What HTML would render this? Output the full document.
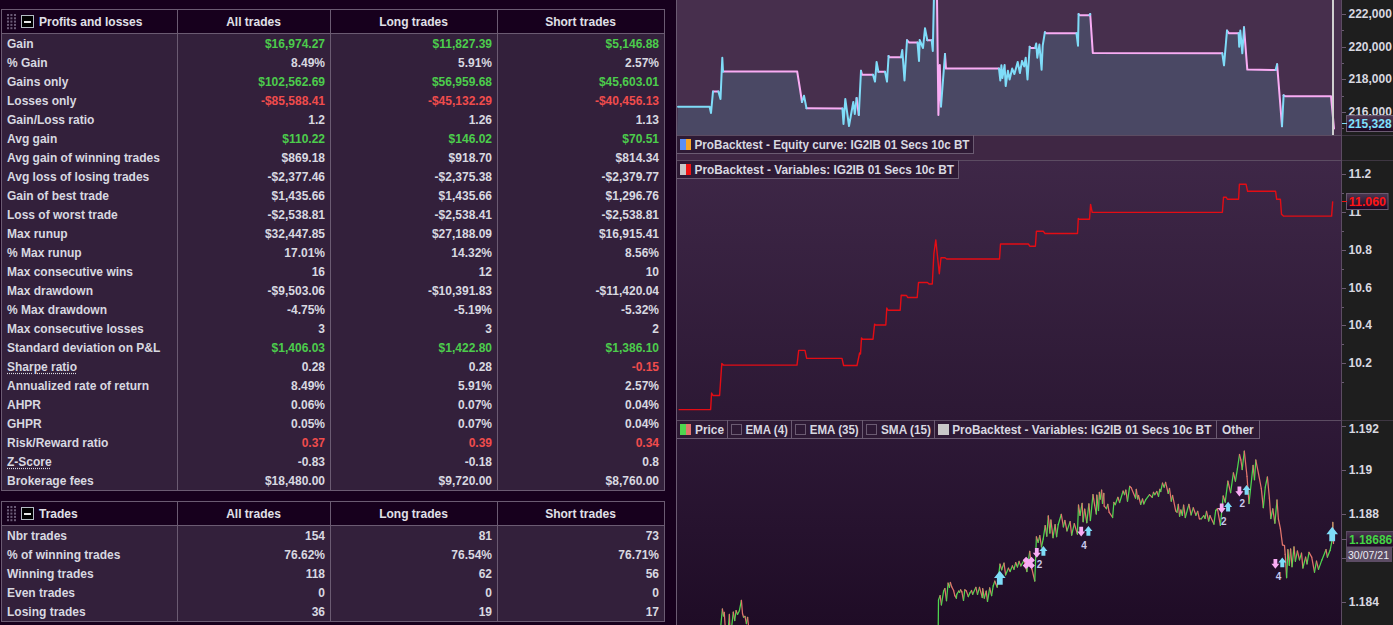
<!DOCTYPE html>
<html><head><meta charset="utf-8"><style>
*{margin:0;padding:0;box-sizing:border-box}
html,body{width:1393px;height:625px;overflow:hidden;background:#17001d;font-family:"Liberation Sans",sans-serif;font-weight:bold;font-size:12px}
.tbl{position:absolute;left:1px;width:664px;border:1px solid #6b5b72;background:#33203b}
.hdr{position:absolute;left:-1px;top:-1px;width:664px;height:25px;border:1px solid #6b5b72;background:#17001d}
.grip{position:absolute;left:4px;top:4px;width:12px;height:18px}
.minus{position:absolute;left:19px;top:5px;width:13px;height:13px;border:1px solid #b4bcc4;background:#000}
.minus:after{content:"";position:absolute;left:2px;top:4.5px;width:7px;height:2px;background:#e8e8e8}
.htitle{position:absolute;left:37px;top:1px;line-height:23px;color:#e0e0e8}
.hc{position:absolute;top:1px;line-height:23px;text-align:center;color:#e0e0e8}
.vl{position:absolute;top:-1px;bottom:-1px;width:1px;background:#6b5b72}
.lab{position:absolute;left:5px;line-height:19px;color:#d8d8e0;white-space:nowrap}
.lab u{text-decoration:underline dotted;text-underline-offset:2px}
.val{position:absolute;line-height:19px;color:#d8d8e0;white-space:nowrap;text-align:right}
.g{color:#4ccc4c}.r{color:#f04c4c}
#rp{position:absolute;left:676px;top:0;width:1px;height:625px;background:#6b5b72}
</style></head><body>
<div class="tbl" style="top:9px;height:482px">
<div class="hdr">
<div class="grip"><svg width="12" height="18"><rect x="1" y="0" width="2" height="2" fill="#6a5a76"/><rect x="1" y="3.3" width="2" height="2" fill="#6a5a76"/><rect x="1" y="6.6" width="2" height="2" fill="#6a5a76"/><rect x="1" y="9.9" width="2" height="2" fill="#6a5a76"/><rect x="1" y="13.2" width="2" height="2" fill="#6a5a76"/><rect x="4.4" y="0" width="2" height="2" fill="#6a5a76"/><rect x="4.4" y="3.3" width="2" height="2" fill="#6a5a76"/><rect x="4.4" y="6.6" width="2" height="2" fill="#6a5a76"/><rect x="4.4" y="9.9" width="2" height="2" fill="#6a5a76"/><rect x="4.4" y="13.2" width="2" height="2" fill="#6a5a76"/><rect x="8" y="0" width="2" height="2" fill="#6a5a76"/><rect x="8" y="3.3" width="2" height="2" fill="#6a5a76"/><rect x="8" y="6.6" width="2" height="2" fill="#6a5a76"/><rect x="8" y="9.9" width="2" height="2" fill="#6a5a76"/><rect x="8" y="13.2" width="2" height="2" fill="#6a5a76"/></svg></div><div class="minus"></div>
<div class="htitle">Profits and losses</div>
<div class="hc" style="left:175px;width:153px">All trades</div>
<div class="hc" style="left:328px;width:167px">Long trades</div>
<div class="hc" style="left:495px;width:167px">Short trades</div>
</div>
<div class="vl" style="left:175px"></div>
<div class="vl" style="left:328px"></div>
<div class="vl" style="left:495px"></div>
<div class="lab" style="top:25px">Gain</div>
<div class="val g" style="top:25px;right:339px">$16,974.27</div>
<div class="val g" style="top:25px;right:172px">$11,827.39</div>
<div class="val g" style="top:25px;right:5px">$5,146.88</div>
<div class="lab" style="top:44px">% Gain</div>
<div class="val" style="top:44px;right:339px">8.49%</div>
<div class="val" style="top:44px;right:172px">5.91%</div>
<div class="val" style="top:44px;right:5px">2.57%</div>
<div class="lab" style="top:63px">Gains only</div>
<div class="val g" style="top:63px;right:339px">$102,562.69</div>
<div class="val g" style="top:63px;right:172px">$56,959.68</div>
<div class="val g" style="top:63px;right:5px">$45,603.01</div>
<div class="lab" style="top:82px">Losses only</div>
<div class="val r" style="top:82px;right:339px">-$85,588.41</div>
<div class="val r" style="top:82px;right:172px">-$45,132.29</div>
<div class="val r" style="top:82px;right:5px">-$40,456.13</div>
<div class="lab" style="top:101px">Gain/Loss ratio</div>
<div class="val" style="top:101px;right:339px">1.2</div>
<div class="val" style="top:101px;right:172px">1.26</div>
<div class="val" style="top:101px;right:5px">1.13</div>
<div class="lab" style="top:120px">Avg gain</div>
<div class="val g" style="top:120px;right:339px">$110.22</div>
<div class="val g" style="top:120px;right:172px">$146.02</div>
<div class="val g" style="top:120px;right:5px">$70.51</div>
<div class="lab" style="top:139px">Avg gain of winning trades</div>
<div class="val" style="top:139px;right:339px">$869.18</div>
<div class="val" style="top:139px;right:172px">$918.70</div>
<div class="val" style="top:139px;right:5px">$814.34</div>
<div class="lab" style="top:158px">Avg loss of losing trades</div>
<div class="val" style="top:158px;right:339px">-$2,377.46</div>
<div class="val" style="top:158px;right:172px">-$2,375.38</div>
<div class="val" style="top:158px;right:5px">-$2,379.77</div>
<div class="lab" style="top:177px">Gain of best trade</div>
<div class="val" style="top:177px;right:339px">$1,435.66</div>
<div class="val" style="top:177px;right:172px">$1,435.66</div>
<div class="val" style="top:177px;right:5px">$1,296.76</div>
<div class="lab" style="top:196px">Loss of worst trade</div>
<div class="val" style="top:196px;right:339px">-$2,538.81</div>
<div class="val" style="top:196px;right:172px">-$2,538.41</div>
<div class="val" style="top:196px;right:5px">-$2,538.81</div>
<div class="lab" style="top:215px">Max runup</div>
<div class="val" style="top:215px;right:339px">$32,447.85</div>
<div class="val" style="top:215px;right:172px">$27,188.09</div>
<div class="val" style="top:215px;right:5px">$16,915.41</div>
<div class="lab" style="top:234px">% Max runup</div>
<div class="val" style="top:234px;right:339px">17.01%</div>
<div class="val" style="top:234px;right:172px">14.32%</div>
<div class="val" style="top:234px;right:5px">8.56%</div>
<div class="lab" style="top:253px">Max consecutive wins</div>
<div class="val" style="top:253px;right:339px">16</div>
<div class="val" style="top:253px;right:172px">12</div>
<div class="val" style="top:253px;right:5px">10</div>
<div class="lab" style="top:272px">Max drawdown</div>
<div class="val" style="top:272px;right:339px">-$9,503.06</div>
<div class="val" style="top:272px;right:172px">-$10,391.83</div>
<div class="val" style="top:272px;right:5px">-$11,420.04</div>
<div class="lab" style="top:291px">% Max drawdown</div>
<div class="val" style="top:291px;right:339px">-4.75%</div>
<div class="val" style="top:291px;right:172px">-5.19%</div>
<div class="val" style="top:291px;right:5px">-5.32%</div>
<div class="lab" style="top:310px">Max consecutive losses</div>
<div class="val" style="top:310px;right:339px">3</div>
<div class="val" style="top:310px;right:172px">3</div>
<div class="val" style="top:310px;right:5px">2</div>
<div class="lab" style="top:329px">Standard deviation on P&amp;L</div>
<div class="val g" style="top:329px;right:339px">$1,406.03</div>
<div class="val g" style="top:329px;right:172px">$1,422.80</div>
<div class="val g" style="top:329px;right:5px">$1,386.10</div>
<div class="lab" style="top:348px"><u>Sharpe ratio</u></div>
<div class="val" style="top:348px;right:339px">0.28</div>
<div class="val" style="top:348px;right:172px">0.28</div>
<div class="val r" style="top:348px;right:5px">-0.15</div>
<div class="lab" style="top:367px">Annualized rate of return</div>
<div class="val" style="top:367px;right:339px">8.49%</div>
<div class="val" style="top:367px;right:172px">5.91%</div>
<div class="val" style="top:367px;right:5px">2.57%</div>
<div class="lab" style="top:386px">AHPR</div>
<div class="val" style="top:386px;right:339px">0.06%</div>
<div class="val" style="top:386px;right:172px">0.07%</div>
<div class="val" style="top:386px;right:5px">0.04%</div>
<div class="lab" style="top:405px">GHPR</div>
<div class="val" style="top:405px;right:339px">0.05%</div>
<div class="val" style="top:405px;right:172px">0.07%</div>
<div class="val" style="top:405px;right:5px">0.04%</div>
<div class="lab" style="top:424px">Risk/Reward ratio</div>
<div class="val r" style="top:424px;right:339px">0.37</div>
<div class="val r" style="top:424px;right:172px">0.39</div>
<div class="val r" style="top:424px;right:5px">0.34</div>
<div class="lab" style="top:443px"><u>Z-Score</u></div>
<div class="val" style="top:443px;right:339px">-0.83</div>
<div class="val" style="top:443px;right:172px">-0.18</div>
<div class="val" style="top:443px;right:5px">0.8</div>
<div class="lab" style="top:462px">Brokerage fees</div>
<div class="val" style="top:462px;right:339px">$18,480.00</div>
<div class="val" style="top:462px;right:172px">$9,720.00</div>
<div class="val" style="top:462px;right:5px">$8,760.00</div>
</div>
<div class="tbl" style="top:501px;height:121px">
<div class="hdr">
<div class="grip"><svg width="12" height="18"><rect x="1" y="0" width="2" height="2" fill="#6a5a76"/><rect x="1" y="3.3" width="2" height="2" fill="#6a5a76"/><rect x="1" y="6.6" width="2" height="2" fill="#6a5a76"/><rect x="1" y="9.9" width="2" height="2" fill="#6a5a76"/><rect x="1" y="13.2" width="2" height="2" fill="#6a5a76"/><rect x="4.4" y="0" width="2" height="2" fill="#6a5a76"/><rect x="4.4" y="3.3" width="2" height="2" fill="#6a5a76"/><rect x="4.4" y="6.6" width="2" height="2" fill="#6a5a76"/><rect x="4.4" y="9.9" width="2" height="2" fill="#6a5a76"/><rect x="4.4" y="13.2" width="2" height="2" fill="#6a5a76"/><rect x="8" y="0" width="2" height="2" fill="#6a5a76"/><rect x="8" y="3.3" width="2" height="2" fill="#6a5a76"/><rect x="8" y="6.6" width="2" height="2" fill="#6a5a76"/><rect x="8" y="9.9" width="2" height="2" fill="#6a5a76"/><rect x="8" y="13.2" width="2" height="2" fill="#6a5a76"/></svg></div><div class="minus"></div>
<div class="htitle">Trades</div>
<div class="hc" style="left:175px;width:153px">All trades</div>
<div class="hc" style="left:328px;width:167px">Long trades</div>
<div class="hc" style="left:495px;width:167px">Short trades</div>
</div>
<div class="vl" style="left:175px"></div>
<div class="vl" style="left:328px"></div>
<div class="vl" style="left:495px"></div>
<div class="lab" style="top:25px">Nbr trades</div>
<div class="val" style="top:25px;right:339px">154</div>
<div class="val" style="top:25px;right:172px">81</div>
<div class="val" style="top:25px;right:5px">73</div>
<div class="lab" style="top:44px">% of winning trades</div>
<div class="val" style="top:44px;right:339px">76.62%</div>
<div class="val" style="top:44px;right:172px">76.54%</div>
<div class="val" style="top:44px;right:5px">76.71%</div>
<div class="lab" style="top:63px">Winning trades</div>
<div class="val" style="top:63px;right:339px">118</div>
<div class="val" style="top:63px;right:172px">62</div>
<div class="val" style="top:63px;right:5px">56</div>
<div class="lab" style="top:82px">Even trades</div>
<div class="val" style="top:82px;right:339px">0</div>
<div class="val" style="top:82px;right:172px">0</div>
<div class="val" style="top:82px;right:5px">0</div>
<div class="lab" style="top:101px">Losing trades</div>
<div class="val" style="top:101px;right:339px">36</div>
<div class="val" style="top:101px;right:172px">19</div>
<div class="val" style="top:101px;right:5px">17</div>
</div>
<div id="rp"></div>
<svg id="rsv" width="717" height="625" viewBox="0 0 717 625" style="position:absolute;left:676px;top:0"><style>path.g{stroke:#4fd64f}path.r{stroke:#e2746c}</style><defs><linearGradient id="gv" x1="0" y1="0" x2="0" y2="1"><stop offset="0" stop-color="#3e2747"/><stop offset="1" stop-color="#2c1834"/></linearGradient><linearGradient id="gp" x1="0" y1="0" x2="0" y2="1"><stop offset="0" stop-color="#2e1937"/><stop offset="1" stop-color="#1f0c26"/></linearGradient><clipPath id="ceq"><rect x="1" y="0" width="664" height="135"/></clipPath><clipPath id="cv"><rect x="1" y="161" width="664" height="259"/></clipPath><clipPath id="cp"><rect x="1" y="439" width="664" height="186"/></clipPath></defs><rect x="665" y="0" width="52" height="625" fill="#1e1e1e"/><rect x="1" y="0" width="664" height="135" fill="#472f4d"/><g clip-path="url(#ceq)"><polygon points="2.0,106.7 33.6,106.7 35.0,113.0 37.0,91.4 42.4,91.4 44.5,99.0 46.3,57.7 47.0,71.6 121.2,71.6 124.0,89.0 126.0,102.0 128.0,95.8 130.5,108.2 166.4,108.5 167.5,124.0 169.3,99.0 173.0,126.0 177.3,102.0 178.8,114.0 180.6,98.0 182.8,115.0 185.0,70.7 186.0,74.7 197.0,74.7 199.0,81.6 200.6,62.0 202.4,71.8 209.0,71.8 211.0,81.6 212.6,56.0 213.0,57.2 225.0,57.2 226.3,50.0 228.5,80.5 231.0,40.3 233.0,42.4 241.5,42.4 243.0,61.0 243.7,40.0 247.0,48.0 249.0,28.3 251.3,40.3 255.7,40.3 256.8,51.0 257.9,0.0 261.0,0.0 262.4,115.0 263.8,65.0 265.0,106.5 269.0,54.0 270.0,68.6 323.0,68.6 324.3,80.5 325.4,65.3 326.4,78.0 328.6,65.0 329.7,86.0 331.9,70.7 333.6,79.5 336.2,68.6 338.4,74.0 341.7,62.0 343.9,73.0 346.0,61.0 348.2,66.4 349.7,57.7 351.5,79.5 353.7,46.8 354.7,47.9 359.1,47.9 360.2,43.5 361.3,57.7 363.4,44.6 365.6,69.7 366.7,45.7 368.9,32.2 370.0,33.3 400.5,33.3 402.0,45.7 402.6,14.1 403.7,15.2 413.5,15.2 414.2,14.1 416.8,52.9 546.3,53.3 548.0,65.3 551.0,30.5 553.0,33.3 562.6,33.3 563.2,46.8 564.3,30.5 566.3,53.3 568.0,27.2 571.3,69.6 599.6,70.0 601.1,64.2 606.0,126.2 607.6,95.3 609.0,96.2 655.0,96.2 658.0,128.4 658.0,135.0 1.0,135.0" fill="#4a4864"/><path d="M37.0,91.4L42.4,91.4M47.0,71.6L121.2,71.6M121.2,71.6L124.0,89.0M124.0,89.0L126.0,102.0M130.5,108.2L166.4,108.5M180.6,98.0L182.8,115.0M185.0,70.7L186.0,74.7M186.0,74.7L197.0,74.7M202.4,71.8L209.0,71.8M212.6,56.0L213.0,57.2M213.0,57.2L225.0,57.2M231.0,40.3L233.0,42.4M233.0,42.4L241.5,42.4M251.3,40.3L255.7,40.3M261.0,-2.0L262.4,115.0M262.4,115.0L263.8,65.0M263.8,65.0L265.0,106.5M269.0,54.0L270.0,68.6M270.0,68.6L323.0,68.6M353.7,46.8L354.7,47.9M354.7,47.9L359.1,47.9M368.9,32.2L370.0,33.3M370.0,33.3L400.5,33.3M402.6,14.1L403.7,15.2M403.7,15.2L413.5,15.2M414.2,14.1L416.8,52.9M416.8,52.9L546.3,53.3M551.0,30.5L553.0,33.3M553.0,33.3L562.6,33.3M568.0,27.2L571.3,69.6M571.3,69.6L599.6,70.0M601.1,64.2L606.0,126.2M607.6,95.3L609.0,96.2M609.0,96.2L655.0,96.2M655.0,96.2L658.0,128.4" stroke="#f9acf4" stroke-width="2" fill="none" stroke-linecap="round" stroke-linejoin="round"/><path d="M2.0,106.7L33.6,106.7M33.6,106.7L35.0,113.0M35.0,113.0L37.0,91.4M42.4,91.4L44.5,99.0M44.5,99.0L46.3,57.7M46.3,57.7L47.0,71.6M126.0,102.0L128.0,95.8M128.0,95.8L130.5,108.2M166.4,108.5L167.5,124.0M167.5,124.0L169.3,99.0M169.3,99.0L173.0,126.0M173.0,126.0L177.3,102.0M177.3,102.0L178.8,114.0M178.8,114.0L180.6,98.0M182.8,115.0L185.0,70.7M197.0,74.7L199.0,81.6M199.0,81.6L200.6,62.0M200.6,62.0L202.4,71.8M209.0,71.8L211.0,81.6M211.0,81.6L212.6,56.0M225.0,57.2L226.3,50.0M226.3,50.0L228.5,80.5M228.5,80.5L231.0,40.3M241.5,42.4L243.0,61.0M243.0,61.0L243.7,40.0M243.7,40.0L247.0,48.0M247.0,48.0L249.0,28.3M249.0,28.3L251.3,40.3M255.7,40.3L256.8,51.0M256.8,51.0L257.9,-2.0M257.9,-2.0L261.0,-2.0M265.0,106.5L269.0,54.0M323.0,68.6L324.3,80.5M324.3,80.5L325.4,65.3M325.4,65.3L326.4,78.0M326.4,78.0L328.6,65.0M328.6,65.0L329.7,86.0M329.7,86.0L331.9,70.7M331.9,70.7L333.6,79.5M333.6,79.5L336.2,68.6M336.2,68.6L338.4,74.0M338.4,74.0L341.7,62.0M341.7,62.0L343.9,73.0M343.9,73.0L346.0,61.0M346.0,61.0L348.2,66.4M348.2,66.4L349.7,57.7M349.7,57.7L351.5,79.5M351.5,79.5L353.7,46.8M359.1,47.9L360.2,43.5M360.2,43.5L361.3,57.7M361.3,57.7L363.4,44.6M363.4,44.6L365.6,69.7M365.6,69.7L366.7,45.7M366.7,45.7L368.9,32.2M400.5,33.3L402.0,45.7M402.0,45.7L402.6,14.1M413.5,15.2L414.2,14.1M546.3,53.3L548.0,65.3M548.0,65.3L551.0,30.5M562.6,33.3L563.2,46.8M563.2,46.8L564.3,30.5M564.3,30.5L566.3,53.3M566.3,53.3L568.0,27.2M599.6,70.0L601.1,64.2M606.0,126.2L607.6,95.3" stroke="#7fdcf8" stroke-width="2" fill="none" stroke-linecap="round" stroke-linejoin="round"/></g><rect x="656" y="0" width="2" height="135" fill="#d0d0d0"/><rect x="1" y="136" width="664" height="24" fill="#3f2744"/><rect x="1" y="161" width="664" height="259" fill="url(#gv)"/><path d="M2.6,409.6 L34.6,409.6 L35.6,393.0 L37.0,395.5 L43.6,395.5 L45.8,363.5 L47.4,365.1 L121.0,365.1 L122.7,350.4 L129.0,350.4 L130.7,358.4 L166.0,358.4 L167.6,365.5 L181.0,365.5 L183.6,353.0 L184.5,354.0 L185.5,337.9 L186.5,339.2 L197.0,339.2 L198.6,324.1 L199.5,325.0 L209.8,325.0 L210.8,308.0 L212.0,310.3 L224.2,310.3 L225.2,295.3 L230.6,295.5 L231.6,297.5 L241.2,297.5 L242.5,282.5 L251.5,282.5 L253.0,284.0 L256.3,284.0 L257.9,253.6 L259.8,239.9 L263.3,273.8 L265.0,257.8 L269.0,257.8 L270.7,259.0 L323.5,259.0 L324.5,244.0 L352.4,244.0 L354.0,246.3 L359.4,246.3 L360.4,231.2 L367.4,231.3 L369.0,233.5 L401.5,233.5 L402.3,218.5 L403.0,219.3 L413.5,219.3 L414.6,204.4 L416.2,212.4 L546.4,212.3 L547.5,197.2 L550.3,197.2 L551.4,199.3 L562.6,199.3 L563.4,184.3 L570.1,184.3 L571.6,191.3 L599.6,191.3 L600.7,199.3 L604.4,199.3 L605.5,214.2 L607.4,216.1 L655.6,216.1 L656.7,201.4" stroke="#e40c14" stroke-width="1.4" fill="none" stroke-linejoin="round"/><rect x="1" y="421" width="664" height="204" fill="url(#gp)"/><g clip-path="url(#cp)"><g stroke-width="1.25" fill="none" stroke-linecap="round"><path class="g" d="M44.4,630.0L46.4,609.0"/><path class="r" d="M46.4,609.0L47.5,615.8"/><path class="g" d="M47.5,615.8L48.3,612.4"/><path class="r" d="M48.3,612.4L49.4,630.0"/><path class="r" d="M49.4,630.0L52.2,630.0"/><path class="g" d="M52.2,630.0L53.4,614.4"/><path class="r" d="M53.4,614.4L53.9,630.0"/><path class="r" d="M53.9,630.0L55.3,630.0"/><path class="g" d="M55.3,630.0L57.3,612.1"/><path class="r" d="M57.3,612.1L58.7,620.5"/><path class="g" d="M58.7,620.5L60.1,610.7"/><path class="r" d="M60.1,610.7L61.5,614.4"/><path class="g" d="M61.5,614.4L63.4,610.7"/><path class="g" d="M63.4,610.7L65.4,600.4"/><path class="r" d="M65.4,600.4L66.5,613.5"/><path class="r" d="M66.5,613.5L67.6,617.2"/><path class="g" d="M67.6,617.2L69.0,616.3"/><path class="r" d="M69.0,616.3L70.4,623.6"/><path class="g" d="M70.4,623.6L71.6,617.4"/><path class="r" d="M71.6,617.4L73.0,630.0"/><path class="g" d="M262.2,630.0L262.5,600.0"/><path class="g" d="M262.5,600.0L264.1,595.6"/><path class="r" d="M264.1,595.6L265.4,604.9"/><path class="g" d="M265.4,604.9L267.6,591.1"/><path class="g" d="M267.6,591.1L268.9,588.6"/><path class="r" d="M268.9,588.6L270.5,600.7"/><path class="g" d="M270.5,600.7L272.1,583.1"/><path class="r" d="M272.1,583.1L273.4,587.3"/><path class="g" d="M273.4,587.3L274.4,582.5"/><path class="r" d="M274.4,582.5L275.6,586.6"/><path class="r" d="M275.6,586.6L277.6,590.5"/><path class="r" d="M277.6,590.5L278.8,595.6"/><path class="r" d="M278.8,595.6L280.4,598.2"/><path class="g" d="M280.4,598.2L280.8,594.3"/><path class="g" d="M280.8,594.3L282.7,591.1"/><path class="r" d="M282.7,591.1L283.6,592.4"/><path class="g" d="M283.6,592.4L284.6,589.8"/><path class="r" d="M284.6,589.8L285.9,591.8"/><path class="r" d="M285.9,591.8L287.5,600.4"/><path class="g" d="M287.5,600.4L288.8,589.8"/><path class="r" d="M288.8,589.8L290.4,591.1"/><path class="r" d="M290.4,591.1L292.3,596.6"/><path class="g" d="M292.3,596.6L293.9,593.0"/><path class="g" d="M293.9,593.0L295.5,590.5"/><path class="r" d="M295.5,590.5L296.7,594.3"/><path class="g" d="M296.7,594.3L299.9,587.3"/><path class="r" d="M299.9,587.3L301.5,594.3"/><path class="g" d="M301.5,594.3L303.5,587.3"/><path class="r" d="M303.5,587.3L306.3,597.5"/><path class="g" d="M306.3,597.5L306.7,588.6"/><path class="r" d="M306.7,588.6L308.3,598.2"/><path class="g" d="M308.3,598.2L310.2,591.1"/><path class="r" d="M310.2,591.1L311.5,601.4"/><path class="g" d="M311.5,601.4L313.7,587.9"/><path class="r" d="M313.7,587.9L315.6,595.6"/><path class="g" d="M315.6,595.6L317.2,586.0"/><path class="g" d="M317.2,586.0L318.8,581.2"/><path class="r" d="M318.8,581.2L321.2,587.2"/><path class="g" d="M321.2,587.2L324.0,564.2"/><path class="r" d="M324.0,564.2L325.7,569.8"/><path class="g" d="M325.7,569.8L328.0,563.1"/><path class="r" d="M328.0,563.1L329.6,574.9"/><path class="g" d="M329.6,574.9L332.4,568.2"/><path class="r" d="M332.4,568.2L334.1,571.5"/><path class="g" d="M334.1,571.5L336.4,565.9"/><path class="r" d="M336.4,565.9L338.0,569.3"/><path class="g" d="M338.0,569.3L339.7,562.6"/><path class="r" d="M339.7,562.6L341.4,567.0"/><path class="g" d="M341.4,567.0L343.1,561.4"/><path class="r" d="M343.1,561.4L344.8,565.9"/><path class="g" d="M344.8,565.9L348.1,560.3"/><path class="r" d="M348.1,560.3L350.9,571.5"/><path class="g" d="M350.9,571.5L353.7,551.4"/><path class="r" d="M353.7,551.4L356.0,569.3"/><path class="r" d="M356.0,569.3L358.8,581.0"/><path class="g" d="M358.8,581.0L360.4,536.8"/><path class="r" d="M360.4,536.8L362.1,542.4"/><path class="g" d="M362.1,542.4L363.8,535.7"/><path class="r" d="M363.8,535.7L365.5,546.9"/><path class="g" d="M365.5,546.9L367.2,539.0"/><path class="g" d="M367.2,539.0L369.2,525.7"/><path class="r" d="M369.2,525.7L370.8,536.1"/><path class="g" d="M370.8,536.1L372.3,515.9"/><path class="r" d="M372.3,515.9L373.9,533.0"/><path class="g" d="M373.9,533.0L374.9,520.0"/><path class="r" d="M374.9,520.0L377.0,537.7"/><path class="g" d="M377.0,537.7L379.1,524.7"/><path class="r" d="M379.1,524.7L380.6,536.7"/><path class="g" d="M380.6,536.7L382.2,524.7"/><path class="g" d="M382.2,524.7L385.3,514.3"/><path class="r" d="M385.3,514.3L387.4,526.8"/><path class="g" d="M387.4,526.8L388.9,520.5"/><path class="r" d="M388.9,520.5L391.0,530.9"/><path class="g" d="M391.0,530.9L394.1,521.6"/><path class="r" d="M394.1,521.6L395.7,535.1"/><path class="g" d="M395.7,535.1L398.3,523.7"/><path class="r" d="M398.3,523.7L401.4,534.1"/><path class="g" d="M401.4,534.1L402.5,505.0"/><path class="r" d="M402.5,505.0L404.0,515.3"/><path class="g" d="M404.0,515.3L406.1,503.4"/><path class="r" d="M406.1,503.4L407.1,521.6"/><path class="g" d="M407.1,521.6L408.7,509.1"/><path class="r" d="M408.7,509.1L410.8,522.6"/><path class="g" d="M410.8,522.6L412.9,503.9"/><path class="r" d="M412.9,503.9L414.4,520.5"/><path class="g" d="M414.4,520.5L417.0,494.6"/><path class="r" d="M417.0,494.6L418.6,505.0"/><path class="r" d="M418.6,505.0L420.3,514.0"/><path class="g" d="M420.3,514.0L420.8,495.1"/><path class="r" d="M420.8,495.1L422.5,510.5"/><path class="g" d="M422.5,510.5L423.4,492.4"/><path class="r" d="M423.4,492.4L424.3,499.0"/><path class="g" d="M424.3,499.0L425.6,490.2"/><path class="r" d="M425.6,490.2L426.5,503.4"/><path class="g" d="M426.5,503.4L427.8,493.3"/><path class="r" d="M427.8,493.3L428.2,506.1"/><path class="r" d="M428.2,506.1L430.4,508.7"/><path class="g" d="M430.4,508.7L431.8,504.3"/><path class="r" d="M431.8,504.3L433.1,512.2"/><path class="r" d="M433.1,512.2L436.6,517.5"/><path class="g" d="M436.6,517.5L437.9,502.5"/><path class="r" d="M437.9,502.5L439.2,504.7"/><path class="g" d="M439.2,504.7L441.9,497.3"/><path class="r" d="M441.9,497.3L443.6,502.5"/><path class="g" d="M443.6,502.5L447.1,491.1"/><path class="r" d="M447.1,491.1L448.5,494.6"/><path class="g" d="M448.5,494.6L449.8,490.2"/><path class="r" d="M449.8,490.2L451.5,501.2"/><path class="g" d="M451.5,501.2L453.7,486.3"/><path class="r" d="M453.7,486.3L455.1,487.6"/><path class="r" d="M455.1,487.6L459.5,498.1"/><path class="g" d="M459.5,498.1L460.3,489.3"/><path class="r" d="M460.3,489.3L461.7,499.0"/><path class="g" d="M461.7,499.0L462.5,495.5"/><path class="r" d="M462.5,495.5L464.7,504.3"/><path class="g" d="M464.7,504.3L466.5,499.0"/><path class="r" d="M466.5,499.0L467.8,503.9"/><path class="g" d="M467.8,503.9L469.6,499.9"/><path class="g" d="M469.6,499.9L473.5,494.6"/><path class="r" d="M473.5,494.6L476.2,497.3"/><path class="g" d="M476.2,497.3L477.5,492.4"/><path class="r" d="M477.5,492.4L478.8,494.6"/><path class="g" d="M478.8,494.6L480.8,491.5"/><path class="r" d="M480.8,491.5L482.5,496.4"/><path class="g" d="M482.5,496.4L483.8,489.3"/><path class="r" d="M483.8,489.3L484.7,491.5"/><path class="g" d="M484.7,491.5L486.5,483.2"/><path class="r" d="M486.5,483.2L488.2,487.2"/><path class="g" d="M488.2,487.2L489.6,482.3"/><path class="r" d="M489.6,482.3L492.2,493.3"/><path class="g" d="M492.2,493.3L493.5,488.5"/><path class="r" d="M493.5,488.5L495.3,501.2"/><path class="g" d="M495.3,501.2L496.6,495.5"/><path class="r" d="M496.6,495.5L499.7,510.9"/><path class="r" d="M499.7,510.9L501.0,512.2"/><path class="g" d="M501.0,512.2L502.3,504.3"/><path class="r" d="M502.3,504.3L503.6,516.2"/><path class="g" d="M503.6,516.2L504.9,510.0"/><path class="r" d="M504.9,510.0L506.3,515.3"/><path class="g" d="M506.3,515.3L507.6,505.2"/><path class="r" d="M507.6,505.2L509.3,517.5"/><path class="g" d="M509.3,517.5L512.9,504.3"/><path class="r" d="M512.9,504.3L515.1,514.9"/><path class="g" d="M515.1,514.9L517.3,507.8"/><path class="r" d="M517.3,507.8L519.9,515.3"/><path class="g" d="M519.9,515.3L521.7,511.3"/><path class="r" d="M521.7,511.3L523.4,518.8"/><path class="r" d="M523.4,518.8L525.2,518.8"/><path class="g" d="M525.2,518.8L527.8,515.7"/><path class="r" d="M527.8,515.7L529.1,518.4"/><path class="g" d="M529.1,518.4L530.5,511.3"/><path class="r" d="M530.5,511.3L532.7,521.0"/><path class="g" d="M532.7,521.0L534.0,515.7"/><path class="r" d="M534.0,515.7L537.9,524.1"/><path class="g" d="M537.9,524.1L539.7,510.5"/><path class="g" d="M539.7,510.5L541.4,508.7"/><path class="r" d="M541.4,508.7L544.4,525.3"/><path class="g" d="M544.4,525.3L547.2,496.0"/><path class="r" d="M547.2,496.0L549.2,502.1"/><path class="g" d="M549.2,502.1L551.9,481.1"/><path class="r" d="M551.9,481.1L554.6,492.6"/><path class="g" d="M554.6,492.6L557.4,472.9"/><path class="r" d="M557.4,472.9L559.4,481.1"/><path class="g" d="M559.4,481.1L561.4,468.8"/><path class="g" d="M561.4,468.8L563.5,454.5"/><path class="r" d="M563.5,454.5L564.9,460.0"/><path class="r" d="M564.9,460.0L566.2,469.5"/><path class="g" d="M566.2,469.5L568.3,451.1"/><path class="r" d="M568.3,451.1L571.0,476.3"/><path class="r" d="M571.0,476.3L573.0,503.5"/><path class="g" d="M573.0,503.5L577.1,465.4"/><path class="r" d="M577.1,465.4L578.5,479.7"/><path class="g" d="M578.5,479.7L579.8,460.0"/><path class="r" d="M579.8,460.0L582.5,473.6"/><path class="r" d="M582.5,473.6L585.3,488.5"/><path class="r" d="M585.3,488.5L587.3,507.6"/><path class="g" d="M587.3,507.6L589.3,487.2"/><path class="g" d="M589.3,487.2L591.4,477.0"/><path class="r" d="M591.4,477.0L593.4,498.1"/><path class="r" d="M593.4,498.1L594.8,518.5"/><path class="g" d="M594.8,518.5L596.8,508.9"/><path class="r" d="M596.8,508.9L598.9,523.2"/><path class="g" d="M598.9,523.2L601.0,500.0"/><path class="r" d="M601.0,500.0L602.4,519.0"/><path class="r" d="M602.4,519.0L604.4,528.6"/><path class="r" d="M604.4,528.6L606.5,544.9"/><path class="r" d="M606.5,544.9L608.5,545.6"/><path class="r" d="M608.5,545.6L609.2,554.4"/><path class="r" d="M609.2,554.4L610.6,577.6"/><path class="g" d="M610.6,577.6L611.9,549.7"/><path class="r" d="M611.9,549.7L613.3,565.3"/><path class="g" d="M613.3,565.3L614.6,549.0"/><path class="r" d="M614.6,549.0L616.0,566.7"/><path class="g" d="M616.0,566.7L618.0,546.9"/><path class="r" d="M618.0,546.9L619.4,561.2"/><path class="g" d="M619.4,561.2L621.4,551.0"/><path class="r" d="M621.4,551.0L623.5,559.9"/><path class="g" d="M623.5,559.9L625.5,553.1"/><path class="r" d="M625.5,553.1L626.9,568.0"/><path class="g" d="M626.9,568.0L629.6,557.1"/><path class="r" d="M629.6,557.1L631.0,563.9"/><path class="g" d="M631.0,563.9L633.0,552.4"/><path class="r" d="M633.0,552.4L635.7,557.1"/><path class="r" d="M635.7,557.1L638.5,572.1"/><path class="g" d="M638.5,572.1L640.5,561.2"/><path class="r" d="M640.5,561.2L642.5,569.4"/><path class="g" d="M642.5,569.4L645.9,559.9"/><path class="g" d="M645.9,559.9L650.0,549.7"/><path class="r" d="M650.0,549.7L651.4,557.1"/><path class="g" d="M651.4,557.1L654.1,550.3"/><path class="g" d="M654.1,550.3L656.1,540.1"/><path class="g" d="M656.1,540.1L656.8,522.4"/><path class="r" d="M656.8,522.4L657.5,543.5"/></g></g><polygon fill="#7fdcf8" points="323.8,570.8 329.6,578.1 326.7,578.1 326.7,584.8 320.9,584.8 320.9,578.1 318.0,578.1"/><polygon fill="#7fdcf8" points="656.2,526.8 662.0,534.3 659.1,534.3 659.1,541.2 653.3,541.2 653.3,534.3 650.4,534.3"/><polygon fill="#7fdcf8" points="367.4,546.0 371.4,551.1 369.4,551.1 369.4,555.8 365.4,555.8 365.4,551.1 363.4,551.1"/><polygon fill="#7fdcf8" points="412.4,526.0 416.4,531.1 414.4,531.1 414.4,535.8 410.4,535.8 410.4,531.1 408.4,531.1"/><polygon fill="#7fdcf8" points="552.1,501.8 556.1,506.9 554.1,506.9 554.1,511.6 550.1,511.6 550.1,506.9 548.1,506.9"/><polygon fill="#7fdcf8" points="570.6,485.0 574.6,490.1 572.6,490.1 572.6,494.8 568.6,494.8 568.6,490.1 566.6,490.1"/><polygon fill="#7fdcf8" points="606.3,557.4 610.3,562.5 608.3,562.5 608.3,567.2 604.3,567.2 604.3,562.5 602.3,562.5"/><polygon fill="#f9acf4" points="360.8,557.8 364.8,552.7 362.7,552.7 362.7,548.0 358.9,548.0 358.9,552.7 356.8,552.7"/><polygon fill="#f9acf4" points="405.2,536.6 409.2,531.5 407.1,531.5 407.1,526.8 403.3,526.8 403.3,531.5 401.2,531.5"/><polygon fill="#f9acf4" points="545.7,513.2 549.7,508.1 547.6,508.1 547.6,503.4 543.8,503.4 543.8,508.1 541.7,508.1"/><polygon fill="#f9acf4" points="563.4,496.4 567.4,491.3 565.3,491.3 565.3,486.6 561.5,486.6 561.5,491.3 559.4,491.3"/><polygon fill="#f9acf4" points="599.4,568.8 603.4,563.7 601.3,563.7 601.3,559.0 597.5,559.0 597.5,563.7 595.4,563.7"/><path d="M348.4,558.5L357.2,567.3M357.2,558.5L348.4,567.3" stroke="#f9acf4" stroke-width="4.8" stroke-linecap="butt"/><text x="363.5999999999999" y="568" font-family="Liberation Sans" font-size="10" font-weight="bold" fill="#c8c8ec" text-anchor="middle">2</text><text x="408" y="549" font-family="Liberation Sans" font-size="10" font-weight="bold" fill="#c8c8ec" text-anchor="middle">4</text><text x="547.9000000000001" y="524.5" font-family="Liberation Sans" font-size="10" font-weight="bold" fill="#c8c8ec" text-anchor="middle">2</text><text x="566.4000000000001" y="507" font-family="Liberation Sans" font-size="10" font-weight="bold" fill="#c8c8ec" text-anchor="middle">2</text><text x="602.5999999999999" y="580.4" font-family="Liberation Sans" font-size="10" font-weight="bold" fill="#c8c8ec" text-anchor="middle">4</text><rect x="1" y="135" width="664" height="1" fill="#5c4c62"/><rect x="666" y="135" width="51" height="1" fill="#3e3642"/><rect x="1" y="160" width="664" height="1" fill="#5c4c62"/><rect x="666" y="160" width="51" height="1" fill="#3e3642"/><rect x="1" y="420" width="664" height="1" fill="#5c4c62"/><rect x="666" y="420" width="51" height="1" fill="#3e3642"/><rect x="665" y="0" width="1" height="625" fill="#5c4c62"/><rect x="1" y="136" width="296" height="17" fill="#2e1a35"/><rect x="1" y="153" width="297" height="1" fill="#6b5b72"/><rect x="297" y="135" width="1" height="19" fill="#6b5b72"/><rect x="4" y="139" width="6" height="11" fill="#5b8ef7"/><rect x="10" y="139" width="5" height="11" fill="#f6a52a"/><text x="18.5" y="148.6" font-family="Liberation Sans" font-size="12" font-weight="bold" fill="#d8d8e0" textLength="275" lengthAdjust="spacingAndGlyphs">ProBacktest - Equity curve: IG2IB 01 Secs 10c BT</text><rect x="1" y="161" width="281" height="17" fill="#2e1a35"/><rect x="1" y="178" width="282" height="1" fill="#6b5b72"/><rect x="282" y="160" width="1" height="19" fill="#6b5b72"/><rect x="4" y="164" width="6" height="11" fill="#c8c8c8"/><rect x="10" y="164" width="5" height="11" fill="#f01414"/><text x="18.5" y="173.6" font-family="Liberation Sans" font-size="12" font-weight="bold" fill="#d8d8e0" textLength="259.5" lengthAdjust="spacingAndGlyphs">ProBacktest - Variables: IG2IB 01 Secs 10c BT</text><rect x="1" y="421" width="582" height="17" fill="#2e1a35"/><rect x="1" y="438" width="583" height="1" fill="#6b5b72"/><rect x="51" y="420" width="1" height="19" fill="#6b5b72"/><rect x="115" y="420" width="1" height="19" fill="#6b5b72"/><rect x="186" y="420" width="1" height="19" fill="#6b5b72"/><rect x="258" y="420" width="1" height="19" fill="#6b5b72"/><rect x="540" y="420" width="1" height="19" fill="#6b5b72"/><rect x="583" y="420" width="1" height="19" fill="#6b5b72"/><rect x="4" y="424" width="6" height="11" fill="#4fd64f"/><rect x="10" y="424" width="5" height="11" fill="#e2746c"/><text x="19.0" y="434.0" font-family="Liberation Sans" font-size="12" font-weight="bold" fill="#d8d8e0" textLength="29" lengthAdjust="spacingAndGlyphs">Price</text><rect x="55.5" y="424.5" width="10" height="10" fill="none" stroke="#6b5b72" stroke-width="1"/><text x="69.4" y="434.0" font-family="Liberation Sans" font-size="12" font-weight="bold" fill="#d8d8e0" textLength="42.5" lengthAdjust="spacingAndGlyphs">EMA (4)</text><rect x="119.5" y="424.5" width="10" height="10" fill="none" stroke="#6b5b72" stroke-width="1"/><text x="133.7" y="434.0" font-family="Liberation Sans" font-size="12" font-weight="bold" fill="#d8d8e0" textLength="49" lengthAdjust="spacingAndGlyphs">EMA (35)</text><rect x="190.5" y="424.5" width="10" height="10" fill="none" stroke="#6b5b72" stroke-width="1"/><text x="205.0" y="434.0" font-family="Liberation Sans" font-size="12" font-weight="bold" fill="#d8d8e0" textLength="50" lengthAdjust="spacingAndGlyphs">SMA (15)</text><rect x="262" y="424" width="11" height="11" fill="#c8c8c8"/><text x="276.2" y="434.0" font-family="Liberation Sans" font-size="12" font-weight="bold" fill="#d8d8e0" textLength="259.2" lengthAdjust="spacingAndGlyphs">ProBacktest - Variables: IG2IB 01 Secs 10c BT</text><text x="546.0" y="434.0" font-family="Liberation Sans" font-size="12" font-weight="bold" fill="#d8d8e0" textLength="31.7" lengthAdjust="spacingAndGlyphs">Other</text><rect x="666" y="14" width="4" height="1" fill="#6b5b72"/><text x="672.5" y="18.0" font-family="Liberation Sans" font-size="12" font-weight="bold" fill="#d8d8e0">222,000</text><rect x="666" y="47" width="4" height="1" fill="#6b5b72"/><text x="672.5" y="51.0" font-family="Liberation Sans" font-size="12" font-weight="bold" fill="#d8d8e0">220,000</text><rect x="666" y="79" width="4" height="1" fill="#6b5b72"/><text x="672.5" y="83.0" font-family="Liberation Sans" font-size="12" font-weight="bold" fill="#d8d8e0">218,000</text><rect x="666" y="112" width="4" height="1" fill="#6b5b72"/><text x="672.5" y="116.0" font-family="Liberation Sans" font-size="12" font-weight="bold" fill="#d8d8e0">216,000</text><rect x="666" y="30" width="2" height="1" fill="#6b5b72"/><rect x="666" y="63" width="2" height="1" fill="#6b5b72"/><rect x="666" y="96" width="2" height="1" fill="#6b5b72"/><rect x="666" y="128" width="2" height="1" fill="#6b5b72"/><defs><linearGradient id="gb" x1="0" y1="0" x2="0" y2="1"><stop offset="0" stop-color="#4c3852"/><stop offset="1" stop-color="#1a0520"/></linearGradient></defs><rect x="670.5" y="115.5" width="50" height="16" fill="url(#gb)" stroke="#6b5b72" stroke-width="1"/><rect x="666" y="123" width="5" height="1" fill="#7fdcf8"/><text x="672.2" y="128.2" font-family="Liberation Sans" font-size="12" font-weight="bold" fill="#7fe0fc">215,328</text><rect x="666" y="174" width="4" height="1" fill="#6b5b72"/><text x="672.5" y="178.0" font-family="Liberation Sans" font-size="12" font-weight="bold" fill="#d8d8e0">11.2</text><rect x="666" y="212" width="4" height="1" fill="#6b5b72"/><text x="672.5" y="216.0" font-family="Liberation Sans" font-size="12" font-weight="bold" fill="#d8d8e0">11</text><rect x="666" y="250" width="4" height="1" fill="#6b5b72"/><text x="672.5" y="254.0" font-family="Liberation Sans" font-size="12" font-weight="bold" fill="#d8d8e0">10.8</text><rect x="666" y="288" width="4" height="1" fill="#6b5b72"/><text x="672.5" y="292.0" font-family="Liberation Sans" font-size="12" font-weight="bold" fill="#d8d8e0">10.6</text><rect x="666" y="325" width="4" height="1" fill="#6b5b72"/><text x="672.5" y="329.0" font-family="Liberation Sans" font-size="12" font-weight="bold" fill="#d8d8e0">10.4</text><rect x="666" y="363" width="4" height="1" fill="#6b5b72"/><text x="672.5" y="367.0" font-family="Liberation Sans" font-size="12" font-weight="bold" fill="#d8d8e0">10.2</text><rect x="666" y="193" width="2" height="1" fill="#6b5b72"/><rect x="666" y="231" width="2" height="1" fill="#6b5b72"/><rect x="666" y="269" width="2" height="1" fill="#6b5b72"/><rect x="666" y="307" width="2" height="1" fill="#6b5b72"/><rect x="666" y="344" width="2" height="1" fill="#6b5b72"/><rect x="666" y="382" width="2" height="1" fill="#6b5b72"/><rect x="670.5" y="193.5" width="41.5" height="16" fill="url(#gb)" stroke="#6b5b72" stroke-width="1"/><rect x="666" y="201" width="5" height="1" fill="#f01414"/><text x="672.8" y="206.2" font-family="Liberation Sans" font-size="12" font-weight="bold" fill="#ff1414" textLength="37.2" lengthAdjust="spacingAndGlyphs">11.060</text><rect x="666" y="426" width="4" height="1" fill="#6b5b72"/><text x="672.8" y="433.0" font-family="Liberation Sans" font-size="12" font-weight="bold" fill="#d8d8e0">1.192</text><rect x="666" y="470" width="4" height="1" fill="#6b5b72"/><text x="672.8" y="474.0" font-family="Liberation Sans" font-size="12" font-weight="bold" fill="#d8d8e0">1.19</text><rect x="666" y="514" width="4" height="1" fill="#6b5b72"/><text x="672.8" y="518.0" font-family="Liberation Sans" font-size="12" font-weight="bold" fill="#d8d8e0">1.188</text><rect x="666" y="558" width="4" height="1" fill="#6b5b72"/><rect x="666" y="602" width="4" height="1" fill="#6b5b72"/><text x="672.8" y="606.0" font-family="Liberation Sans" font-size="12" font-weight="bold" fill="#d8d8e0">1.184</text><rect x="670.5" y="531.5" width="50" height="15.5" fill="url(#gb)" stroke="#5c4c64" stroke-width="1"/><rect x="666" y="539" width="5" height="1" fill="#6b5b72"/><text x="672.9" y="544.0" font-family="Liberation Sans" font-size="12" font-weight="bold" fill="#44d444">1.18686</text><rect x="670" y="547" width="46" height="15" fill="#5c4c64"/><text x="672.0" y="558.9" font-family="Liberation Sans" font-size="11" font-weight="normal" fill="#ececf4" textLength="41" lengthAdjust="spacingAndGlyphs">30/07/21</text></svg>
</body></html>
